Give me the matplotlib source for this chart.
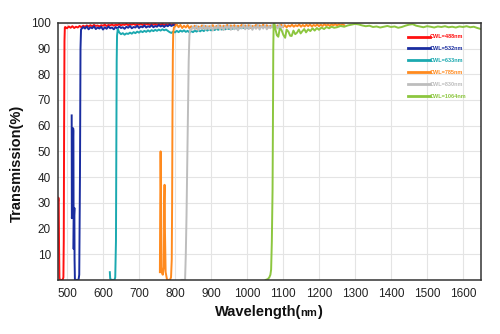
import numpy as np
import matplotlib
matplotlib.use("Agg")
import matplotlib.pyplot as plt

plt.rcParams['font.family'] = ['Liberation Sans', 'DejaVu Sans']

# ---------------- data ----------------
labels = ["CWL=488nm", "CWL=532nm", "CWL=633nm", "CWL=785nm", "CWL=830nm", "CWL=1064nm"]
colors = ["#ff1010", "#1a2da0", "#1ba9b0", "#ff8a1e", "#bdbdbd", "#8cc63f"]

x_ticks = [500, 600, 700, 800, 900, 1000, 1100, 1200, 1300, 1400, 1500, 1600]
y_ticks = [10, 20, 30, 40, 50, 60, 70, 80, 90, 100]

# CWL=488nm
red_edge_wl = [475, 476, 477, 478, 479, 480, 484, 488, 490, 491, 492, 493, 494]
red_edge_T = [30, 32, 31, 12, 1, 0, 0, 0, 1, 15, 60, 93, 98.2]
red_flat_start, red_flat_step = 495, 5
red_flat_T = [98.4, 97.9, 98.6, 98.1, 98.7, 98.0, 98.5, 98.2, 98.8, 98.3,
              98.9, 98.5, 99.0, 98.6, 99.1, 98.7, 99.2, 98.8, 99.0, 98.6,
              99.1, 98.9, 99.3, 98.8, 99.2, 99.0, 99.4, 98.9, 99.3, 99.1,
              99.5, 99.0, 99.4, 99.2, 99.6, 99.1, 99.5, 99.3, 99.6, 99.2,
              99.5, 99.3, 99.7, 99.2, 99.5, 99.4, 99.6, 99.2, 99.5, 99.3,
              99.6, 99.2, 99.5, 99.3, 99.6, 99.2, 99.4, 99.3, 99.5, 99.2,
              99.4, 99.3]

# CWL=532nm
blue_edge_wl = [513, 513.5, 514.5, 517, 517.8, 518.5, 519.5, 520.5, 521, 522, 532, 534, 536, 537.5, 539]
blue_edge_T = [64, 24, 26, 59, 58, 12, 25, 28, 8, 0, 0, 2, 40, 90, 97.5]
blue_flat_start, blue_flat_step = 540, 5
blue_flat_T = [97.6, 98.4, 97.8, 98.6, 97.5, 98.3, 97.9, 98.7, 97.6, 98.2,
               97.8, 98.5, 97.4, 98.3, 97.7, 98.6, 97.9, 98.2, 97.5, 98.4,
               97.8, 98.6, 98.0, 98.3, 97.7, 98.5, 98.1, 98.8, 97.9, 98.4,
               98.2, 98.9, 98.0, 98.6, 98.3, 99.0, 98.2, 98.7, 98.4, 99.1,
               98.3, 98.8, 98.5, 99.2, 98.6, 99.0, 98.4, 99.1, 98.7, 99.3,
               98.8, 99.2, 98.9]

# CWL=633nm
teal_edge_wl = [619, 620, 623, 632, 634, 636, 637, 638, 639, 641]
teal_edge_T = [3, 0.5, 0, 0, 1, 15, 50, 85, 95, 97.6]
teal_flat_start, teal_flat_step = 645, 5
teal_flat_T = [96.3, 95.6, 96.0, 95.4, 95.9, 95.7, 96.2, 95.8, 96.4, 96.0,
               96.6, 96.2, 96.8, 96.4, 96.9, 96.5, 97.1, 96.6, 97.2, 96.8,
               97.3, 96.9, 97.4, 97.0, 97.5, 97.1, 97.4, 96.9, 96.4, 96.1,
               96.6, 96.3, 96.9, 96.4, 97.0, 96.6, 97.1, 96.5, 96.9, 96.3,
               96.8, 96.4, 97.0, 96.6, 97.2, 96.7, 97.3, 96.8, 97.4, 97.0,
               97.5, 97.1, 97.6, 97.2, 97.7, 97.3, 97.8, 97.4, 97.9, 97.5,
               98.0, 97.6, 98.1, 97.7, 98.2, 97.8, 98.3, 97.9, 98.3, 98.0,
               98.4, 98.1]

# CWL=785nm
orange_edge_wl = [758, 759, 760, 761, 763, 766, 769, 770, 771, 772, 774, 778, 786, 789, 791, 792, 793, 794, 795, 797]
orange_edge_T = [3, 30, 50, 35, 3, 2, 5, 30, 37, 20, 3, 0, 0, 1, 8, 30, 65, 88, 96, 98.2]
orange_flat_start, orange_flat_step = 800, 5
orange_flat_T = [98.6, 99.4, 98.3, 99.2, 98.0, 98.9, 98.2, 99.1, 97.9, 98.7,
                 98.1, 98.9, 97.8, 98.6, 98.2, 99.0, 98.0, 98.8, 97.9, 98.7,
                 98.3, 99.1, 98.0, 98.8, 98.2, 99.0, 98.1, 98.9, 98.3, 99.2,
                 98.2, 99.0, 98.4, 99.1, 98.1, 98.9, 98.3, 99.2, 98.5, 99.0,
                 98.3, 99.1, 98.0, 98.8, 98.4, 99.2, 98.2, 99.0, 98.5, 99.3,
                 98.4, 99.1, 98.2, 98.9, 98.5, 99.2, 98.3, 99.0, 98.6, 99.3,
                 98.4, 99.1, 98.3, 99.0, 98.6, 99.3, 98.5, 99.1, 98.7, 99.4,
                 98.5, 99.2, 98.6, 99.3, 98.7, 99.4, 98.6, 99.2, 98.8, 99.4,
                 98.7, 99.3, 98.8, 99.5, 98.9, 99.4, 98.8, 99.5, 99.0, 99.6,
                 98.9, 99.5, 99.0, 99.4, 99.1]

# CWL=830nm
gray_edge_wl = [818, 828, 830, 832, 834, 836, 838, 840, 842]
gray_edge_T = [0, 0, 10, 25, 45, 65, 85, 95, 97.5]
gray_flat_start, gray_flat_step = 845, 5
gray_flat_T = [97.2, 98.6, 97.5, 98.9, 97.1, 98.4, 97.6, 99.0, 97.3, 98.7,
               97.4, 98.8, 97.0, 98.5, 97.7, 99.1, 97.4, 98.6, 97.2, 98.9,
               97.6, 99.0, 97.3, 98.7, 97.5, 98.8, 97.1, 98.5, 97.8, 99.1,
               97.5, 98.9, 97.6, 99.0, 97.3, 98.6, 97.7, 99.2, 97.4, 98.8,
               97.8, 99.0, 97.5, 98.7, 97.9, 99.1, 97.6, 98.9, 97.8, 99.2,
               98.0, 98.8]

# CWL=1064nm
green_edge_wl = [1052, 1058, 1062, 1065, 1067, 1069, 1071, 1072, 1073, 1074, 1076, 1079, 1083,
                 1087, 1091, 1096, 1101, 1106, 1110, 1115, 1120, 1124, 1129, 1134, 1139, 1144,
                 1149, 1154, 1159, 1164, 1170, 1176, 1182, 1188, 1194, 1200, 1207, 1214, 1221,
                 1228, 1235, 1242]
green_edge_T = [0, 0.3, 1, 2, 4, 15, 35, 60, 90, 99.5, 99.8, 97.5, 95.2,
                94.6, 97.8, 97.2, 95.3, 94.2, 97.4, 96.6, 95.0, 94.9, 97.0, 95.6, 96.2, 97.4,
                95.9, 96.8, 97.6, 96.3, 97.5, 96.8, 97.9, 97.0, 98.0, 97.3, 98.2, 97.6, 98.4,
                97.9, 98.5, 98.1]
green_flat_start, green_flat_step = 1250, 10
green_flat_T = [98.3, 98.8, 98.5, 99.0, 99.3, 99.6, 99.4, 99.0, 98.7, 98.9,
                98.4, 98.6, 98.2, 98.5, 98.8, 98.4, 98.6, 98.1, 98.4, 98.9,
                99.3, 99.5, 98.9, 98.6, 98.3, 98.7, 98.5, 98.2, 98.6, 98.4,
                98.7, 98.3, 98.5, 98.2, 98.6, 98.4, 98.7, 98.3, 98.5, 98.0,
                97.6]


def series(edge_wl, edge_T, start, step, flat_T):
    flat_wl = start + step * np.arange(len(flat_T))
    return (np.concatenate([edge_wl, flat_wl]), np.concatenate([edge_T, flat_T]))


data = [
    series(red_edge_wl, red_edge_T, red_flat_start, red_flat_step, red_flat_T),
    series(blue_edge_wl, blue_edge_T, blue_flat_start, blue_flat_step, blue_flat_T),
    series(teal_edge_wl, teal_edge_T, teal_flat_start, teal_flat_step, teal_flat_T),
    series(orange_edge_wl, orange_edge_T, orange_flat_start, orange_flat_step, orange_flat_T),
    series(gray_edge_wl, gray_edge_T, gray_flat_start, gray_flat_step, gray_flat_T),
    series(green_edge_wl, green_edge_T, green_flat_start, green_flat_step, green_flat_T),
]

# ---------------- figure ----------------
fig = plt.figure(figsize=(5, 3.34), dpi=100)
ax = fig.add_axes([0.116, 0.162, 0.846, 0.7695])

for (wl, T), c, lab in zip(data, colors, labels):
    ax.plot(wl, T, color=c, lw=1.4, label=lab, solid_joinstyle='round')

ax.set_xlim(475, 1650)
ax.set_ylim(0, 100)
ax.set_xticks(x_ticks)
ax.set_yticks(y_ticks)
ax.tick_params(axis='both', length=0, labelsize=8.5, colors='#222222')
ax.tick_params(axis='x', pad=6)
ax.tick_params(axis='y', pad=5)
ax.grid(True, color='#e4e4e4', lw=0.8)
ax.set_axisbelow(True)
for side in ['left', 'bottom', 'top', 'right']:
    ax.spines[side].set_color('#333333')
    ax.spines[side].set_linewidth(1.1)

leg = ax.legend(loc='upper left', bbox_to_anchor=(0.827, 0.955), frameon=False,
                prop={'size': 4, 'weight': 'bold'}, handlelength=4.0, handletextpad=0.0,
                labelspacing=1.25, borderpad=0, borderaxespad=0)
for line, text, c in zip(leg.get_lines(), leg.get_texts(), colors):
    line.set_linewidth(2)
    text.set_color(c)

# y label
fig.text(0.034, 0.512, "Transmission(%)", rotation=90, ha='center', va='center',
         fontsize=10.5, fontweight='bold', color='#111111')

# x label with smaller "nm"
fig.canvas.draw()
r = fig.canvas.get_renderer()
parts = [("Wavelength(", 10.5), ("nm", 8), (")", 10.5)]
tobjs = [fig.text(0, 0.055, s, fontsize=fs, fontweight='bold', color='#111111', va='baseline')
         for s, fs in parts]
widths = [t.get_window_extent(r).width for t in tobjs]
gaps = [-1.5, 0.5, 0]
total = sum(widths) + sum(gaps)
x0 = 268.5 - total / 2.0
for t, w, g in zip(tobjs, widths, gaps):
    t.set_x(x0 / 500.0)
    x0 += w + g

fig.savefig("out.png", dpi=100)
